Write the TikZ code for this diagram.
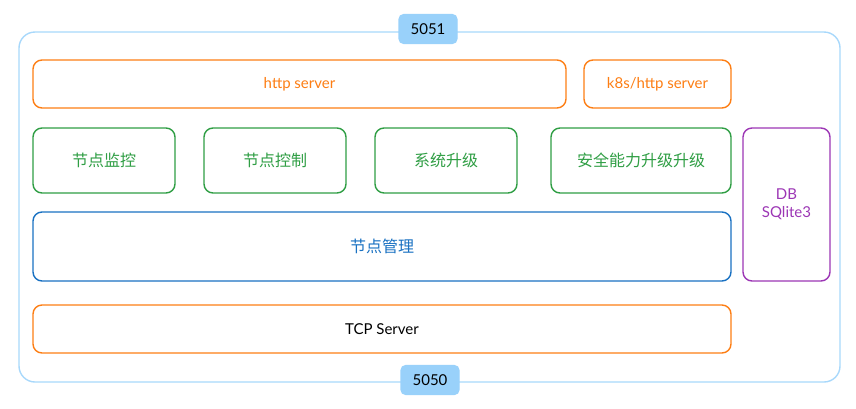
\documentclass[tikz,border=0pt]{standalone}
\usepackage{fontspec}
\setmainfont{Lato}
\newfontfamily\cjk{Noto Sans CJK SC}
\usepackage[HTML]{xcolor}
\usetikzlibrary{positioning}

\definecolor{tagblue}{HTML}{99D1FA}
\definecolor{srvorange}{HTML}{FD7E14}
\definecolor{modgreen}{HTML}{2F9E44}
\definecolor{mgrblue}{HTML}{1971C2}
\definecolor{dbpurple}{HTML}{9C36B5}

\begin{document}
\begin{tikzpicture}[x=1pt,y=-1pt,line width=1.4pt,
  box/.style={draw,rounded corners=9pt,fill=white,align=center,font=\fontsize{15}{18}\selectfont},
  srv/.style={box,draw=srvorange,text=srvorange},
  mod/.style={box,draw=modgreen,text=modgreen,minimum height=65pt,font=\cjk\fontsize{16}{19}\selectfont},
  tag/.style={fill=tagblue,draw=tagblue,rounded corners=5pt,minimum width=58pt,minimum height=29pt,font=\fontsize{15}{18}\selectfont}]
\useasboundingbox (0,0) rectangle (856,408);

% outer frame
\draw[tagblue!85!white,rounded corners=16pt] (19,32) rectangle (840,382);
\node[tag] (p5051) at (428,29) {5051};
\node[tag] (p5050) at (430,380) {5050};

% servers
\node[srv,minimum width=533pt,minimum height=48pt] (http) at (299.5,84) {http server};
\node[srv,minimum width=147pt,minimum height=48pt] (k8s) at (657.5,84) {k8s/http server};

% modules
\node[mod,minimum width=142pt] (monitor) at (104,160.5) {节点监控};
\node[mod,minimum width=142pt] (control) at (275,160.5) {节点控制};
\node[mod,minimum width=142pt] (upgrade) at (446,160.5) {系统升级};
\node[mod,minimum width=180pt] (secure) at (641,160.5) {安全能力升级升级};

\node[box,draw=dbpurple,text=dbpurple,minimum width=87pt,minimum height=153pt] (db) at (786.5,204.5) {DB\\SQlite3};

\node[box,draw=mgrblue,text=mgrblue,minimum width=698pt,minimum height=69pt,font=\cjk\fontsize{16}{19}\selectfont] (manage) at (382,246.5) {节点管理};

\node[box,draw=srvorange,minimum width=698pt,minimum height=48pt] (tcp) at (382,329) {TCP Server};
\end{tikzpicture}
\end{document}
